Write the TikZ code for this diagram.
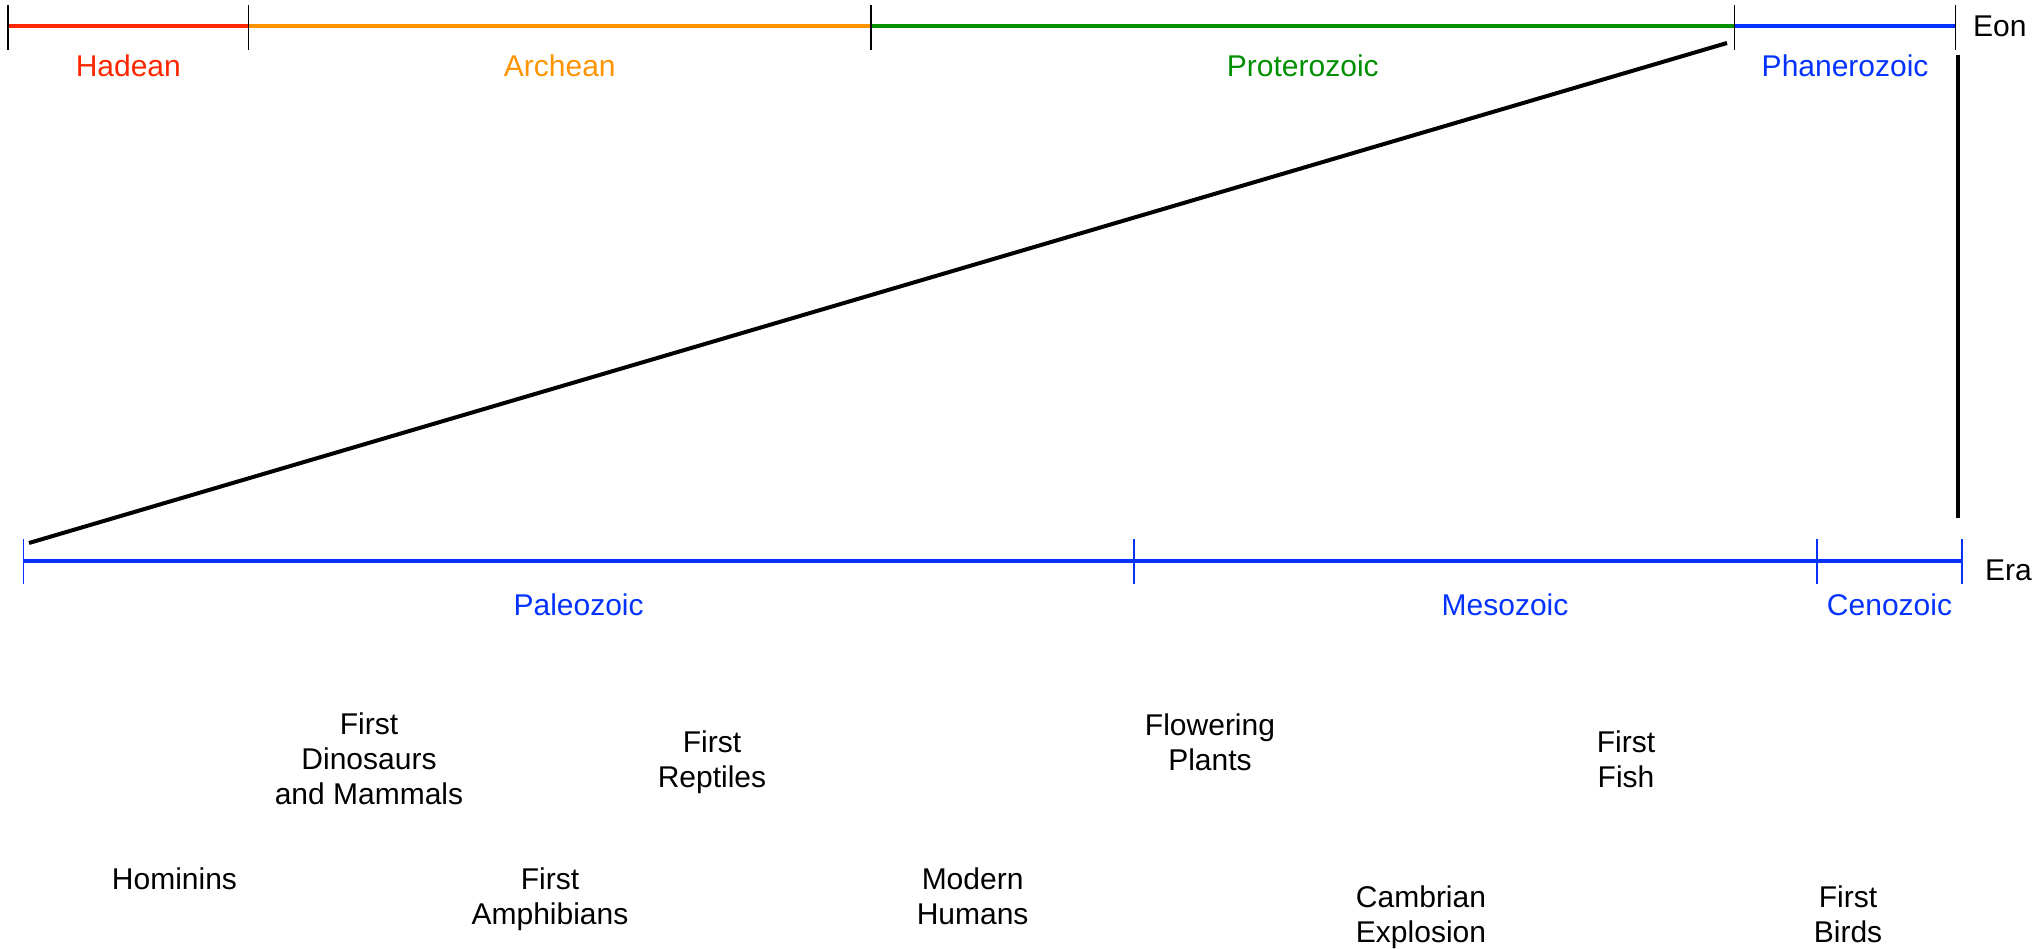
\documentclass[tikz,border=0pt]{standalone}
\usepackage{fontspec}
\setmainfont{Liberation Sans}
\definecolor{hadred}{RGB}{255,38,0}
\definecolor{archorange}{RGB}{255,147,0}
\definecolor{protgreen}{RGB}{0,143,0}
\definecolor{phanblue}{RGB}{4,51,255}
\begin{document}
\begin{tikzpicture}[x=1pt,y=-1pt,
  lbl/.style={font=\fontsize{30}{35}\selectfont, inner sep=0pt, align=center, anchor=base},
  ticks/.style={line width=1.5pt},
  bar/.style={line width=3.5pt},
  zoomline/.style={line width=4pt, black}]
\useasboundingbox (0,0) rectangle (2041,949);
% Eon axis
\coordinate (e0) at (8,26);
\coordinate (e1) at (248.6,26);
\coordinate (e2) at (871,26);
\coordinate (e3) at (1734.5,26);
\coordinate (e4) at (1955.7,26);
\draw[bar, hadred] (e0) -- (e1);
\draw[bar, archorange] (e1) -- (e2);
\draw[bar, protgreen] (e2) -- (e3);
\draw[bar, phanblue] (e3) -- (e4);
\foreach \c in {e0,e1,e2,e3,e4}
  \draw[ticks, black] ([yshift=21pt]\c) -- ([yshift=-24pt]\c);
\node[lbl, hadred] (hadean) at (128.3,77) {Hadean};
\node[lbl, archorange] (archean) at (559.8,77) {Archean};
\node[lbl, protgreen] (proterozoic) at (1302.8,77) {Proterozoic};
\node[lbl, phanblue] (phanerozoic) at (1845.1,77) {Phanerozoic};
\node[lbl, anchor=base west] (eon) at (1973,37) {Eon};
% Zoom lines
\coordinate (zt) at (1727,43);
\coordinate (zb) at (29,543);
\coordinate (vt) at (1958,55);
\coordinate (vb) at (1958,518);
\draw[zoomline] (zt) -- (zb);
\draw[zoomline] (vt) -- (vb);
% Era axis
\coordinate (r0) at (23.4,561);
\coordinate (r1) at (1133.8,561);
\coordinate (r2) at (1817,561);
\coordinate (r3) at (1962,561);
\draw[bar, phanblue] (r0) -- (r3);
\foreach \c in {r0,r1,r2,r3}
  \draw[ticks, phanblue] ([yshift=22pt]\c) -- ([yshift=-23pt]\c);
\node[lbl, phanblue] (paleozoic) at (578.6,615) {Paleozoic};
\node[lbl, phanblue] (mesozoic) at (1505,615) {Mesozoic};
\node[lbl, phanblue] (cenozoic) at (1889.5,615) {Cenozoic};
\node[lbl, anchor=base west] (era) at (1985,580) {Era};
% Events (anchor = baseline of last line)
\node[lbl] (dino) at (369,804) {First\\Dinosaurs\\and Mammals};
\node[lbl] (rept) at (712,787) {First\\Reptiles};
\node[lbl] (flow) at (1210,770) {Flowering\\Plants};
\node[lbl] (fish) at (1626,787) {First\\Fish};
\node[lbl] (homi) at (174.5,889) {Hominins};
\node[lbl] (amph) at (550,924) {First\\Amphibians};
\node[lbl] (mode) at (972.6,924) {Modern\\Humans};
\node[lbl] (camb) at (1421,942) {Cambrian\\Explosion};
\node[lbl] (bird) at (1848,942) {First\\Birds};
\end{tikzpicture}
\end{document}
